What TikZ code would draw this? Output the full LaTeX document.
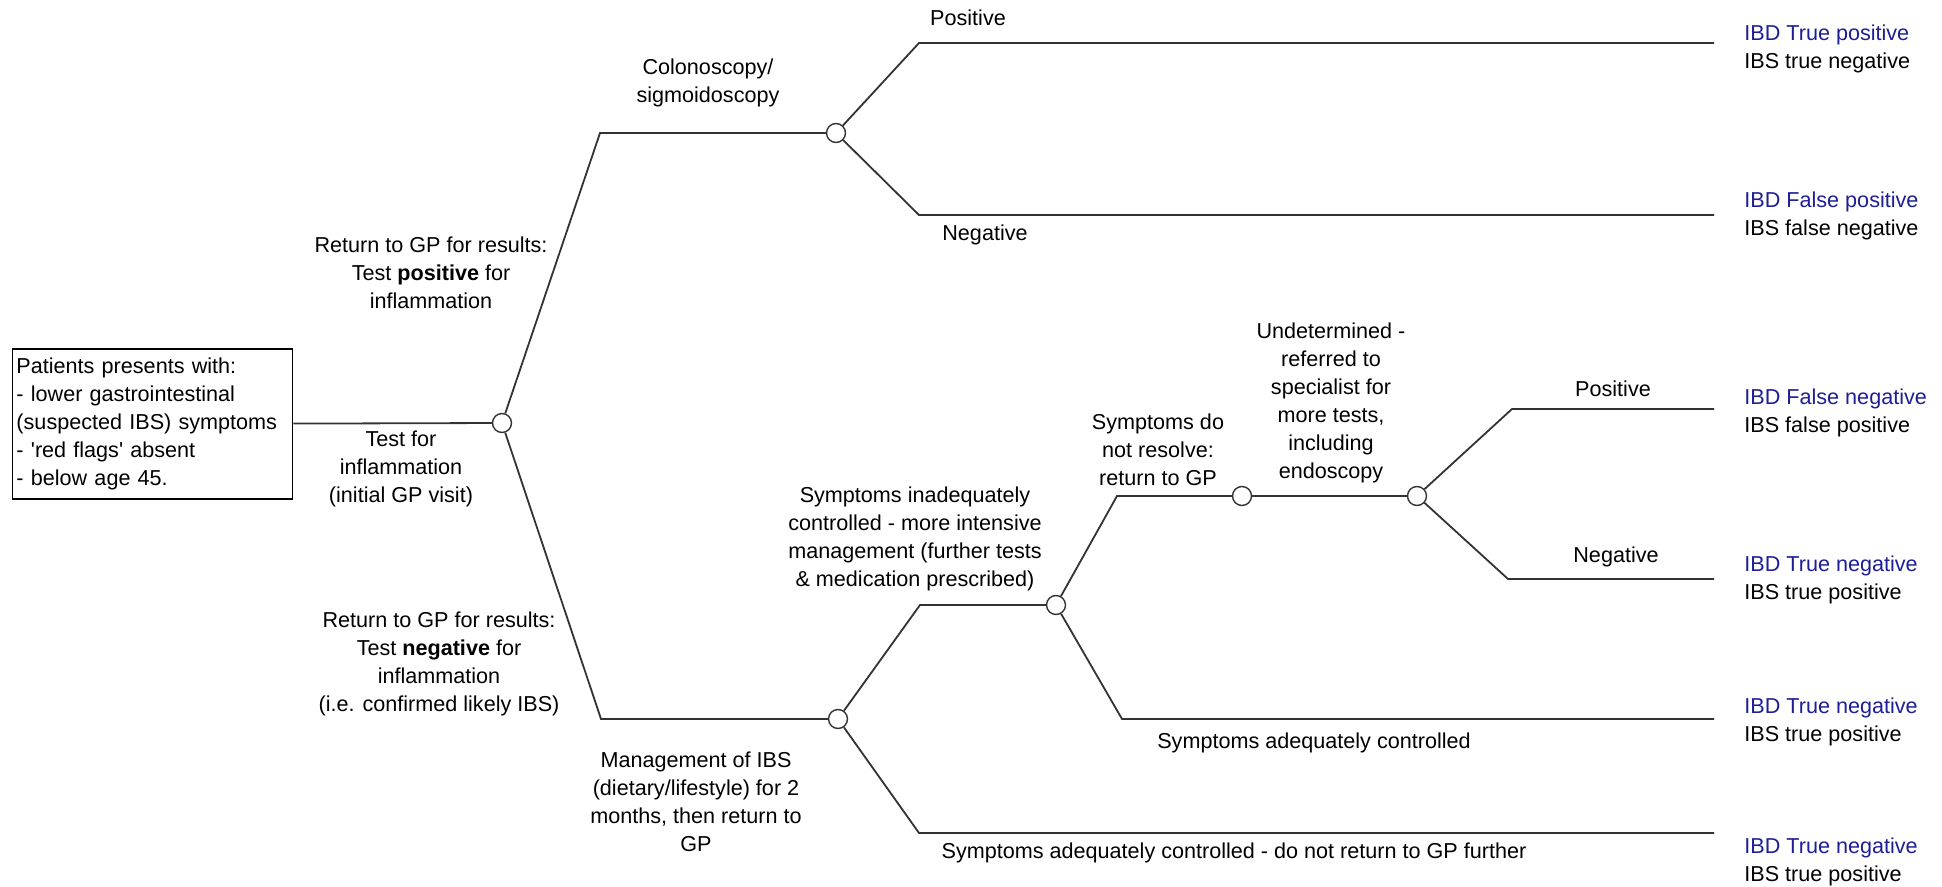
\documentclass[tikz,border=0pt]{standalone}
\usepackage{fontspec}
\setmainfont{Liberation Sans}
\usetikzlibrary{positioning}
\definecolor{ibdblue}{RGB}{30,30,150}
\tikzset{
      chance/.style={
        circle,
        draw=black!80,
        fill=white,
        line width=0.7pt,
        minimum size=9.5pt,
        inner sep=0pt
      },
      branch/.style={draw=black!80, line width=0.9pt},
      startbox/.style={
        draw=black,
        line width=0.8pt,
        align=left,
        text width=136pt,
        minimum height=75pt,
        inner xsep=2pt,
        inner ysep=0pt
      },
      lbl/.style={align=center, inner sep=0pt},
      outcome/.style={align=left, anchor=west, inner sep=0pt}
    }

\begin{document}
\begin{tikzpicture}[x=0.5pt,y=-0.5pt,every node/.style={font=\fontsize{10.8}{14}\selectfont}]
    \useasboundingbox (0,0) rectangle (1942,887);
    % decision tree
    \node[startbox] (start) at (152.5,424) {Patients presents with:\\- lower gastrointestinal\\(suspected IBS) symptoms\\- \textquotesingle red flags\textquotesingle{} absent\\- below age 45.};
    \node[chance] (test) at (502,423) {};
    \node[chance] (colon) at (836,133) {};
    \node[chance] (manage) at (838,719) {};
    \node[chance] (intense) at (1056,605) {};
    \node[chance] (gp) at (1242,496) {};
    \node[chance] (spec) at (1417,496) {};
    \coordinate (posturn) at (600,133);
    \coordinate (negturn) at (601,719);
    \coordinate (colposturn) at (919,43);
    \coordinate (colnegturn) at (919,215);
    \coordinate (inturn) at (920,605);
    \coordinate (adqturn) at (919,833);
    \coordinate (gpturn) at (1117,496);
    \coordinate (ctrlturn) at (1122,719);
    \coordinate (specposturn) at (1512,409);
    \coordinate (specnegturn) at (1508,579);
    \coordinate (end1) at (1714,43);
    \coordinate (end2) at (1714,215);
    \coordinate (end3) at (1714,409);
    \coordinate (end4) at (1714,579);
    \coordinate (end5) at (1714,719);
    \coordinate (end6) at (1714,833);
    \draw[branch] (start) -- (test);
    \draw[branch] (test) -- (posturn) -- (colon);
    \draw[branch] (test) -- (negturn) -- (manage);
    \draw[branch] (colon) -- (colposturn) -- (end1);
    \draw[branch] (colon) -- (colnegturn) -- (end2);
    \draw[branch] (manage) -- (inturn) -- (intense);
    \draw[branch] (manage) -- (adqturn) -- (end6);
    \draw[branch] (intense) -- (gpturn) -- (gp);
    \draw[branch] (intense) -- (ctrlturn) -- (end5);
    \draw[branch] (gp) -- (spec);
    \draw[branch] (spec) -- (specposturn) -- (end3);
    \draw[branch] (spec) -- (specnegturn) -- (end4);
    % branch labels
    \node[lbl] (testlbl) at (401,469) {Test for\\inflammation\\(initial GP visit)};
    \node[lbl] (poslbl) at (431,273) {Return to GP for results:\\Test \textbf{positive} for\\inflammation};
    \node[lbl] (neglbl) at (439,663.5) {Return to GP for results:\\Test \textbf{negative} for\\inflammation\\(i.e. confirmed likely IBS)};
    \node[lbl] (colonlbl) at (708,83) {Colonoscopy/\\sigmoidoscopy};
    \node[lbl] (colposlbl) at (968,18) {Positive};
    \node[lbl] (colneglbl) at (985,235) {Negative};
    \node[lbl] (managelbl) at (696,801.5) {Management of IBS\\(dietary/lifestyle) for 2\\months, then return to\\GP};
    \node[lbl] (intenselbl) at (915,539) {Symptoms inadequately\\controlled - more intensive\\management (further tests\\\& medication prescribed)};
    \node[lbl] (gplbl) at (1158,450) {Symptoms do\\not resolve:\\return to GP};
    \node[lbl] (speclbl) at (1331,403) {Undetermined -\\referred to\\specialist for\\more tests,\\including\\endoscopy};
    \node[lbl] (specposlbl) at (1613,389) {Positive};
    \node[lbl] (specneglbl) at (1616,557) {Negative};
    \node[lbl] (ctrllbl) at (1314,743) {Symptoms adequately controlled};
    \node[lbl] (adqlbl) at (1234,853) {Symptoms adequately controlled - do not return to GP further};
    % outcomes
    \node[outcome] (out1) at (1744,48.5) {\textcolor{ibdblue}{IBD True positive}\\IBS true negative};
    \node[outcome] (out2) at (1744,216) {\textcolor{ibdblue}{IBD False positive}\\IBS false negative};
    \node[outcome] (out3) at (1744,413) {\textcolor{ibdblue}{IBD False negative}\\IBS false positive};
    \node[outcome] (out4) at (1744,579.5) {\textcolor{ibdblue}{IBD True negative}\\IBS true positive};
    \node[outcome] (out5) at (1744,721.5) {\textcolor{ibdblue}{IBD True negative}\\IBS true positive};
    \node[outcome] (out6) at (1744,861.5) {\textcolor{ibdblue}{IBD True negative}\\IBS true positive};
\end{tikzpicture}
\end{document}
